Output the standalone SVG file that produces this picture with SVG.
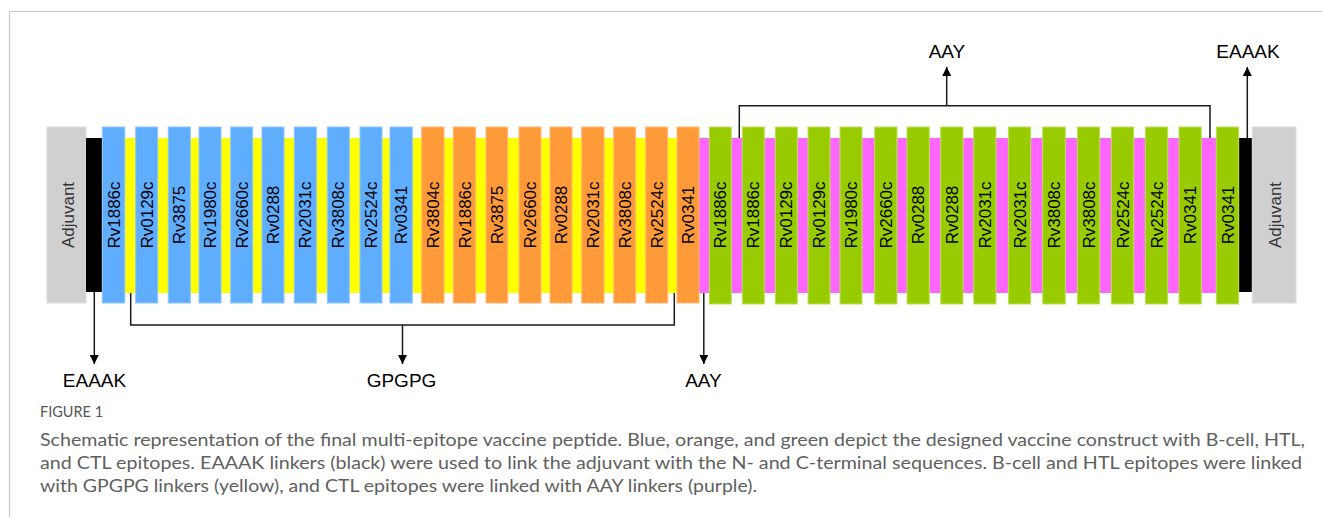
<svg xmlns="http://www.w3.org/2000/svg" width="1322" height="517" viewBox="0 0 1322 517">
<style>
.b{fill:#5eadff;stroke:#8fc6ff;stroke-width:1}
.o{fill:#ff9a38;stroke:#ffb877;stroke-width:1}
.g{fill:#99cc00;stroke:#bde05c;stroke-width:1}
.adj{fill:#d0d0d0;stroke:#dcdcdc;stroke-width:1}
.lbl{font-family:"Liberation Sans",Arial,sans-serif;font-size:17px;fill:#000;text-anchor:middle}
.adjt{font-family:"Liberation Sans",Arial,sans-serif;font-size:17px;fill:#333;text-anchor:middle}
.lk{font-family:"Liberation Sans",Arial,sans-serif;font-size:19px;fill:#000;text-anchor:middle}
.con{stroke:#1a1a1a;stroke-width:1.5;fill:none}
.cap{font-family:Lato,"Open Sans",sans-serif;font-size:17.5px;fill:#606060}
.fig{font-family:Lato,"Open Sans",sans-serif;font-size:14.5px;fill:#555}
</style>
<defs>
<marker id="ah" viewBox="0 0 10 10" refX="10" refY="5" markerWidth="10" markerHeight="9" markerUnits="userSpaceOnUse" orient="auto">
<path d="M0,0 L10,5 L0,10 Z" fill="#000"/>
</marker>
</defs>
<rect width="1322" height="517" fill="#fff"/>
<path d="M9.5,517 V11.5 H1322" fill="none" stroke="#c8c8c8" stroke-width="1.2"/>

<g id="linkers">
<rect x="102" y="138" width="575" height="155" fill="#ffff00"/>
<rect x="699" y="138" width="540" height="155" fill="#ff66ff"/>
</g>

<g id="adjuvant-left"><rect class="adj" x="47" y="127" width="39" height="176"/><text class="adjt" transform="translate(73.5,215) rotate(-90)">Adjuvant</text></g>
<g id="eaaak-left"><rect x="86" y="138" width="16" height="154" fill="#000"/></g>
<g id="eaaak-right"><rect x="1238.7" y="138" width="13.6" height="154" fill="#000"/></g>
<g id="adjuvant-right"><rect class="adj" x="1252.3" y="127" width="43.7" height="176"/><text class="adjt" transform="translate(1280.5,215) rotate(-90)">Adjuvant</text></g>

<g id="bcell">
<g id="b1"><rect class="b" x="102.3" y="127" width="22.5" height="176"/><text class="lbl" transform="translate(119.5,215) rotate(-90)">Rv1886c</text></g>
<g id="b2"><rect class="b" x="135.7" y="127" width="22" height="176"/><text class="lbl" transform="translate(152.7,215) rotate(-90)">Rv0129c</text></g>
<g id="b3"><rect class="b" x="168.3" y="127" width="22" height="176"/><text class="lbl" transform="translate(185.3,215) rotate(-90)">Rv3875</text></g>
<g id="b4"><rect class="b" x="199" y="127" width="22" height="176"/><text class="lbl" transform="translate(216,215) rotate(-90)">Rv1980c</text></g>
<g id="b5"><rect class="b" x="230.7" y="127" width="22" height="176"/><text class="lbl" transform="translate(247.7,215) rotate(-90)">Rv2660c</text></g>
<g id="b6"><rect class="b" x="262" y="127" width="22" height="176"/><text class="lbl" transform="translate(279,215) rotate(-90)">Rv0288</text></g>
<g id="b7"><rect class="b" x="294.3" y="127" width="22" height="176"/><text class="lbl" transform="translate(311.3,215) rotate(-90)">Rv2031c</text></g>
<g id="b8"><rect class="b" x="327.3" y="127" width="22" height="176"/><text class="lbl" transform="translate(344.3,215) rotate(-90)">Rv3808c</text></g>
<g id="b9"><rect class="b" x="360" y="127" width="22" height="176"/><text class="lbl" transform="translate(377,215) rotate(-90)">Rv2524c</text></g>
<g id="b10"><rect class="b" x="390" y="127" width="22.3" height="176"/><text class="lbl" transform="translate(407.2,215) rotate(-90)">Rv0341</text></g>
</g>

<g id="htl">
<g id="o1"><rect class="o" x="421.7" y="127" width="22.3" height="176"/><text class="lbl" transform="translate(438.8,215) rotate(-90)">Rv3804c</text></g>
<g id="o2"><rect class="o" x="453.3" y="127" width="22.4" height="176"/><text class="lbl" transform="translate(470.5,215) rotate(-90)">Rv1886c</text></g>
<g id="o3"><rect class="o" x="486" y="127" width="21.7" height="176"/><text class="lbl" transform="translate(502.8,215) rotate(-90)">Rv3875</text></g>
<g id="o4"><rect class="o" x="519" y="127" width="22" height="176"/><text class="lbl" transform="translate(536,215) rotate(-90)">Rv2660c</text></g>
<g id="o5"><rect class="o" x="550" y="127" width="22" height="176"/><text class="lbl" transform="translate(567,215) rotate(-90)">Rv0288</text></g>
<g id="o6"><rect class="o" x="581.7" y="127" width="22.3" height="176"/><text class="lbl" transform="translate(598.8,215) rotate(-90)">Rv2031c</text></g>
<g id="o7"><rect class="o" x="613.7" y="127" width="22" height="176"/><text class="lbl" transform="translate(630.7,215) rotate(-90)">Rv3808c</text></g>
<g id="o8"><rect class="o" x="645.7" y="127" width="22" height="176"/><text class="lbl" transform="translate(662.7,215) rotate(-90)">Rv2524c</text></g>
<g id="o9"><rect class="o" x="677" y="127" width="22" height="176"/><text class="lbl" transform="translate(694,215) rotate(-90)">Rv0341</text></g>
</g>

<g id="ctl">
<g id="g1"><rect class="g" x="709.3" y="127" width="22" height="177"/><text class="lbl" transform="translate(726.3,215) rotate(-90)">Rv1886c</text></g>
<g id="g2"><rect class="g" x="742.3" y="127" width="22" height="177"/><text class="lbl" transform="translate(759.3,215) rotate(-90)">Rv1886c</text></g>
<g id="g3"><rect class="g" x="775.3" y="127" width="22" height="177"/><text class="lbl" transform="translate(792.3,215) rotate(-90)">Rv0129c</text></g>
<g id="g4"><rect class="g" x="808" y="127" width="22" height="177"/><text class="lbl" transform="translate(825,215) rotate(-90)">Rv0129c</text></g>
<g id="g5"><rect class="g" x="840" y="127" width="22" height="177"/><text class="lbl" transform="translate(857,215) rotate(-90)">Rv1980c</text></g>
<g id="g6"><rect class="g" x="874.7" y="127" width="22.3" height="177"/><text class="lbl" transform="translate(891.8,215) rotate(-90)">Rv2660c</text></g>
<g id="g7"><rect class="g" x="907" y="127" width="22.3" height="177"/><text class="lbl" transform="translate(924.2,215) rotate(-90)">Rv0288</text></g>
<g id="g8"><rect class="g" x="940.7" y="127" width="22.3" height="177"/><text class="lbl" transform="translate(957.8,215) rotate(-90)">Rv0288</text></g>
<g id="g9"><rect class="g" x="973.7" y="127" width="22.3" height="177"/><text class="lbl" transform="translate(990.8,215) rotate(-90)">Rv2031c</text></g>
<g id="g10"><rect class="g" x="1008.4" y="127" width="22.3" height="177"/><text class="lbl" transform="translate(1025.5,215) rotate(-90)">Rv2031c</text></g>
<g id="g11"><rect class="g" x="1042.7" y="127" width="22.6" height="177"/><text class="lbl" transform="translate(1060,215) rotate(-90)">Rv3808c</text></g>
<g id="g12"><rect class="g" x="1077.3" y="127" width="22.4" height="177"/><text class="lbl" transform="translate(1094.5,215) rotate(-90)">Rv3808c</text></g>
<g id="g13"><rect class="g" x="1111.3" y="127" width="22.4" height="177"/><text class="lbl" transform="translate(1128.5,215) rotate(-90)">Rv2524c</text></g>
<g id="g14"><rect class="g" x="1145.3" y="127" width="22.4" height="177"/><text class="lbl" transform="translate(1162.5,215) rotate(-90)">Rv2524c</text></g>
<g id="g15"><rect class="g" x="1179" y="127" width="22.3" height="177"/><text class="lbl" transform="translate(1196.2,215) rotate(-90)">Rv0341</text></g>
<g id="g16"><rect class="g" x="1216.3" y="127" width="22.4" height="177"/><text class="lbl" transform="translate(1233.5,215) rotate(-90)">Rv0341</text></g>
</g>

<g id="connectors">
<path class="con" d="M94.3,292 V364" marker-end="url(#ah)"/>
<path class="con" d="M130.7,293 V325 H674.3 V293"/>
<path class="con" d="M402.5,325 V364" marker-end="url(#ah)"/>
<path class="con" d="M703.8,293 V364" marker-end="url(#ah)"/>
<path class="con" d="M739.3,138 V105.7 H1210 V138"/>
<path class="con" d="M946.7,105.7 V67" marker-end="url(#ah)"/>
<path class="con" d="M1247.3,138 V67" marker-end="url(#ah)"/>
</g>

<g id="labels">
<text class="lk" x="94.5" y="387">EAAAK</text>
<text class="lk" x="401.5" y="387">GPGPG</text>
<text class="lk" x="703.5" y="387">AAY</text>
<text class="lk" x="947" y="58">AAY</text>
<text class="lk" x="1248" y="58">EAAAK</text>
</g>

<g id="caption">
<text class="fig" x="40" y="417">FIGURE 1</text>
<text class="cap" x="40" y="446" textLength="1265" lengthAdjust="spacingAndGlyphs">Schematic representation of the final multi-epitope vaccine peptide. Blue, orange, and green depict the designed vaccine construct with B-cell, HTL,</text>
<text class="cap" x="40" y="469" textLength="1262" lengthAdjust="spacingAndGlyphs">and CTL epitopes. EAAAK linkers (black) were used to link the adjuvant with the N- and C-terminal sequences. B-cell and HTL epitopes were linked</text>
<text class="cap" x="40" y="492" textLength="717" lengthAdjust="spacingAndGlyphs">with GPGPG linkers (yellow), and CTL epitopes were linked with AAY linkers (purple).</text>
</g>
</svg>
